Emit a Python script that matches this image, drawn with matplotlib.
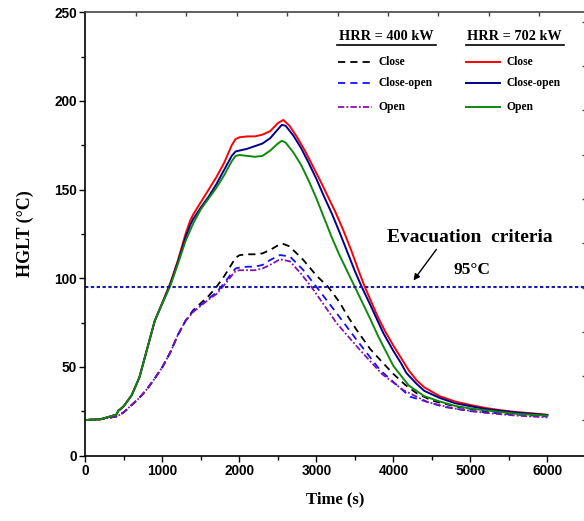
import numpy as np
import matplotlib.pyplot as plt
from matplotlib.lines import Line2D

# HRR = 702 kW
t_702_close = [0, 200, 400, 430, 450, 500, 600, 700, 800, 900, 1000, 1100, 1200, 1300, 1360, 1400, 1500,
               1600, 1700, 1800, 1900, 1950, 2000, 2100, 2200, 2300, 2400, 2500, 2570, 2650, 2750, 2850,
               2950, 3050, 3150, 3250, 3350, 3450, 3550, 3630, 3700, 3800, 3900, 4000, 4100, 4200, 4300,
               4400, 4600, 4800, 5000, 5200, 5400, 5600, 5800, 6000]
T_702_close = [20, 20.5, 23, 25.5, 26, 28, 34, 44, 60, 76, 86.5, 97, 110, 125, 132.5, 136, 143,
               150, 157, 165, 175, 178.5, 179.5, 180, 180, 181, 183, 187.5, 189.3, 186, 179.5, 172,
               163.5, 155, 146, 137, 127, 116, 104, 95, 88, 78, 69.5, 62, 55, 48, 42.5,
               38.5, 33.5, 30.5, 28.5, 26.8, 25.5, 24.5, 23.8, 23]

t_702_co = [0, 200, 400, 430, 450, 500, 600, 700, 800, 900, 1000, 1100, 1200, 1300, 1360, 1400, 1500,
            1600, 1700, 1800, 1900, 1950, 2000, 2100, 2200, 2300, 2400, 2500, 2550, 2600, 2700, 2800,
            2900, 3000, 3100, 3200, 3300, 3400, 3500, 3590, 3700, 3800, 3870, 4000, 4100, 4170, 4300,
            4400, 4600, 4800, 5000, 5200, 5400, 5600, 5800, 6000]
T_702_co = [20, 20.5, 23, 25.5, 26, 28, 34, 44, 60, 76, 86, 96.5, 109, 123, 130, 133.5, 140,
            146, 153, 161, 169, 171.5, 172, 173, 174.5, 176, 179, 184, 186.5, 186, 180.5, 173.5,
            165, 156, 146, 136.5, 126, 115, 104, 95, 85, 75.5, 69, 59, 52, 46.5, 40.5,
            36.5, 32.5, 29.5, 27.8, 26.2, 25.2, 24.2, 23.5, 22.8]

t_702_open = [0, 200, 400, 430, 450, 500, 600, 700, 800, 900, 1000, 1100, 1200, 1300, 1400, 1500, 1600,
              1700, 1800, 1900, 1950, 2000, 2100, 2200, 2300, 2400, 2500, 2550, 2600, 2700, 2800, 2900,
              3000, 3100, 3200, 3300, 3400, 3500, 3600, 3700, 3800, 3900, 4000, 4200, 4400, 4600, 4800,
              5000, 5200, 5400, 5600, 5800, 6000]
T_702_open = [20, 20.5, 23, 25.5, 26, 28, 34, 44, 60, 76, 86, 95.5, 108, 121, 131, 139, 145,
              151, 158, 166, 169, 169.5, 169, 168.5, 169, 172, 176, 177.5, 176.5, 171, 164, 155,
              145, 134, 123, 113, 104, 95, 86, 77, 67.5, 59, 50.5, 39.5, 33.5, 30.5, 28,
              26.5, 25.5, 24.5, 23.5, 23, 22.5]

# HRR = 400 kW
t_400_close = [0, 200, 400, 450, 500, 600, 700, 800, 900, 1000, 1100, 1200, 1300, 1400, 1500, 1600,
               1700, 1800, 1900, 1950, 2000, 2100, 2200, 2300, 2400, 2500, 2560, 2650, 2830, 3000,
               3155, 3300, 3400, 3523, 3700, 3869, 4000, 4150, 4303, 4500, 4823, 5200, 5600, 6000]
T_400_close = [20, 20.5, 22, 23, 24.5, 28.5, 32.5, 37.5, 43.5, 50, 58, 68, 76, 82, 86, 90,
               95, 101, 108, 111.5, 113, 113.5, 113.5, 114, 116, 118.5, 119.5, 118, 110.3, 101.5,
               95, 86.5, 79, 70.8, 60, 52, 46, 40, 35.1, 31, 27.5, 25, 23.5, 22.5]

t_400_co = [0, 200, 400, 450, 500, 600, 700, 800, 900, 1000, 1100, 1200, 1300, 1400, 1500, 1600,
            1700, 1800, 1900, 1950, 2000, 2100, 2200, 2300, 2400, 2527, 2657, 2830, 3004, 3264,
            3523, 3826, 4216, 4650, 5000, 5500, 6000]
T_400_co = [20, 20.5, 22, 23, 24.5, 28.5, 32.5, 37.5, 43.5, 50, 58, 68, 76, 81.5, 85, 88.5,
            92, 97, 103, 105.5, 106, 106.5, 106.5, 107.5, 110.3, 113.1, 112.2, 104.6, 94.9, 80.2,
            65.2, 48.2, 33.2, 27.5, 25, 23.3, 22]

t_400_open = [0, 200, 400, 450, 500, 600, 700, 800, 900, 1000, 1100, 1200, 1300, 1400, 1500, 1600,
              1700, 1800, 1900, 1950, 2000, 2100, 2200, 2300, 2397, 2527, 2657, 2800, 2939, 3264,
              3566, 3850, 4129, 4450, 4779, 5200, 5600, 6000]
T_400_open = [20, 20.5, 22, 23, 24.5, 28.5, 32.5, 37.5, 43.5, 50, 58, 68, 76, 81, 84.5, 88,
              91, 96, 101.5, 104, 104.5, 104.5, 104.5, 105.5, 107.5, 110.7, 109.5, 102.5, 94.9, 74.6,
              59.5, 46, 36.9, 30, 26.6, 24, 22.5, 21.5]

criteria = 95

serif = 'Liberation Serif'
sans = 'Liberation Sans'

fig = plt.figure(figsize=(5.84, 5.21), dpi=100)
ax = fig.add_axes([0.1464, 0.1257, 0.8567, 0.8507])

ax.plot(t_400_close, T_400_close, color='black', lw=1.3, ls=(0, (4, 2.8)))
ax.plot(t_400_co, T_400_co, color='#1010ff', lw=1.3, ls=(0, (4, 2.8)))
ax.plot(t_400_open, T_400_open, color='#8a10a8', lw=1.3, ls=(0, (3.5, 1.2, 1, 1.2)))
ax.plot(t_702_close, T_702_close, color='#ff0000', lw=1.4)
ax.plot(t_702_co, T_702_co, color='#00008b', lw=1.4)
ax.plot(t_702_open, T_702_open, color='#11880f', lw=1.4)

ax.axhline(criteria, color='#1a1aa8', lw=1.5, ls=(0, (1.6, 1.2)))

ax.set_xlim(0, 6500)
ax.set_ylim(0, 250)
ax.set_xticks(np.arange(0, 6001, 1000))
ax.set_xticks(np.arange(500, 6500, 1000), minor=True)
ax.set_yticks(np.arange(0, 251, 50))
ax.set_yticks(np.arange(25, 250, 50), minor=True)
ax.tick_params(which='major', direction='out', length=4.5, width=1, pad=1.5, labelsize=9.8)
ax.tick_params(which='minor', direction='out', length=3, width=1)
ax.tick_params(top=False, right=False)
for lab in ax.get_xticklabels() + ax.get_yticklabels():
    lab.set_fontfamily(sans)
    lab.set_fontweight('bold')

for s in ['left', 'bottom']:
    ax.spines[s].set_linewidth(1.2)
ax.spines['top'].set_linewidth(1.2)
ax.spines['top'].set_color('#444444')
ax.spines['right'].set_visible(False)

ax.set_xlabel('Time (s)', fontfamily=serif, fontweight='bold', fontsize=12, labelpad=10)
ax.set_ylabel('HGLT (°C)', fontfamily=serif, fontweight='bold', fontsize=13, labelpad=15)

# top / right ticks of the frame (slightly off the main scale in the original)
frame = fig.add_axes(ax.get_position().bounds, frameon=False)
frame.set_xlim(0, 500.3)
frame.set_ylim(455.5, 12.3)
frame.set_xticks(np.arange(1, 10) * 50.4)
frame.set_yticks(21.7 + 44.3 * np.arange(10))
frame.tick_params(bottom=False, left=False, top=True, right=True, labelbottom=False,
                  labelleft=False, direction='in', length=3, width=1, color='#444444')
frame.patch.set_visible(False)

# annotation
ax.text(4990, 122.7, 'Evacuation  criteria', fontfamily=serif, fontweight='bold',
        fontsize=14, ha='center', va='center')
ax.text(5020, 104.6, '95°C', fontfamily=serif, fontweight='bold', fontsize=12.5,
        ha='center', va='center')
ax.annotate('', xy=(4240, 97.5), xytext=(4580, 117.5),
            arrowprops=dict(arrowstyle='-|>', color='black', lw=1, mutation_scale=9))

# legend, two columns with underlined headers
tr = ax.transAxes
headers = [('HRR = 400 kW', 0.6017, 0.5027, 0.7006), ('HRR = 702 kW', 0.8575, 0.7605, 0.9564)]
for txt, xc, x0, x1 in headers:
    ax.text(xc, 0.9450, txt, transform=tr, fontfamily=serif, fontweight='bold', fontsize=10.3,
            ha='center', va='center')
    ax.add_line(Line2D([x0, x1], [0.9262, 0.9262], transform=tr, color='black', lw=1.2))

rows_y = [0.8885, 0.8398, 0.7870]
names = ['Close', 'Close-open', 'Open']
col1 = [dict(color='black', ls=(0, (4, 2.8))), dict(color='#1010ff', ls=(0, (4, 2.8))),
        dict(color='#8a10a8', ls=(0, (3.5, 1.2, 1, 1.2)))]
col2 = [dict(color='#ff0000', ls='-'), dict(color='#00008b', ls='-'), dict(color='#11880f', ls='-')]
for y, name, s1, s2 in zip(rows_y, names, col1, col2):
    ax.add_line(Line2D([0.5047, 0.5726], [y, y], transform=tr, lw=1.3, **s1))
    ax.text(0.5865, y, name, transform=tr, fontfamily=serif, fontweight='bold', fontsize=8.3,
            va='center')
    ax.add_line(Line2D([0.7605, 0.8285], [y, y], transform=tr, lw=1.4, **s2))
    ax.text(0.8405, y, name, transform=tr, fontfamily=serif, fontweight='bold', fontsize=8.3,
            va='center')

fig.savefig('out.png', dpi=100)
